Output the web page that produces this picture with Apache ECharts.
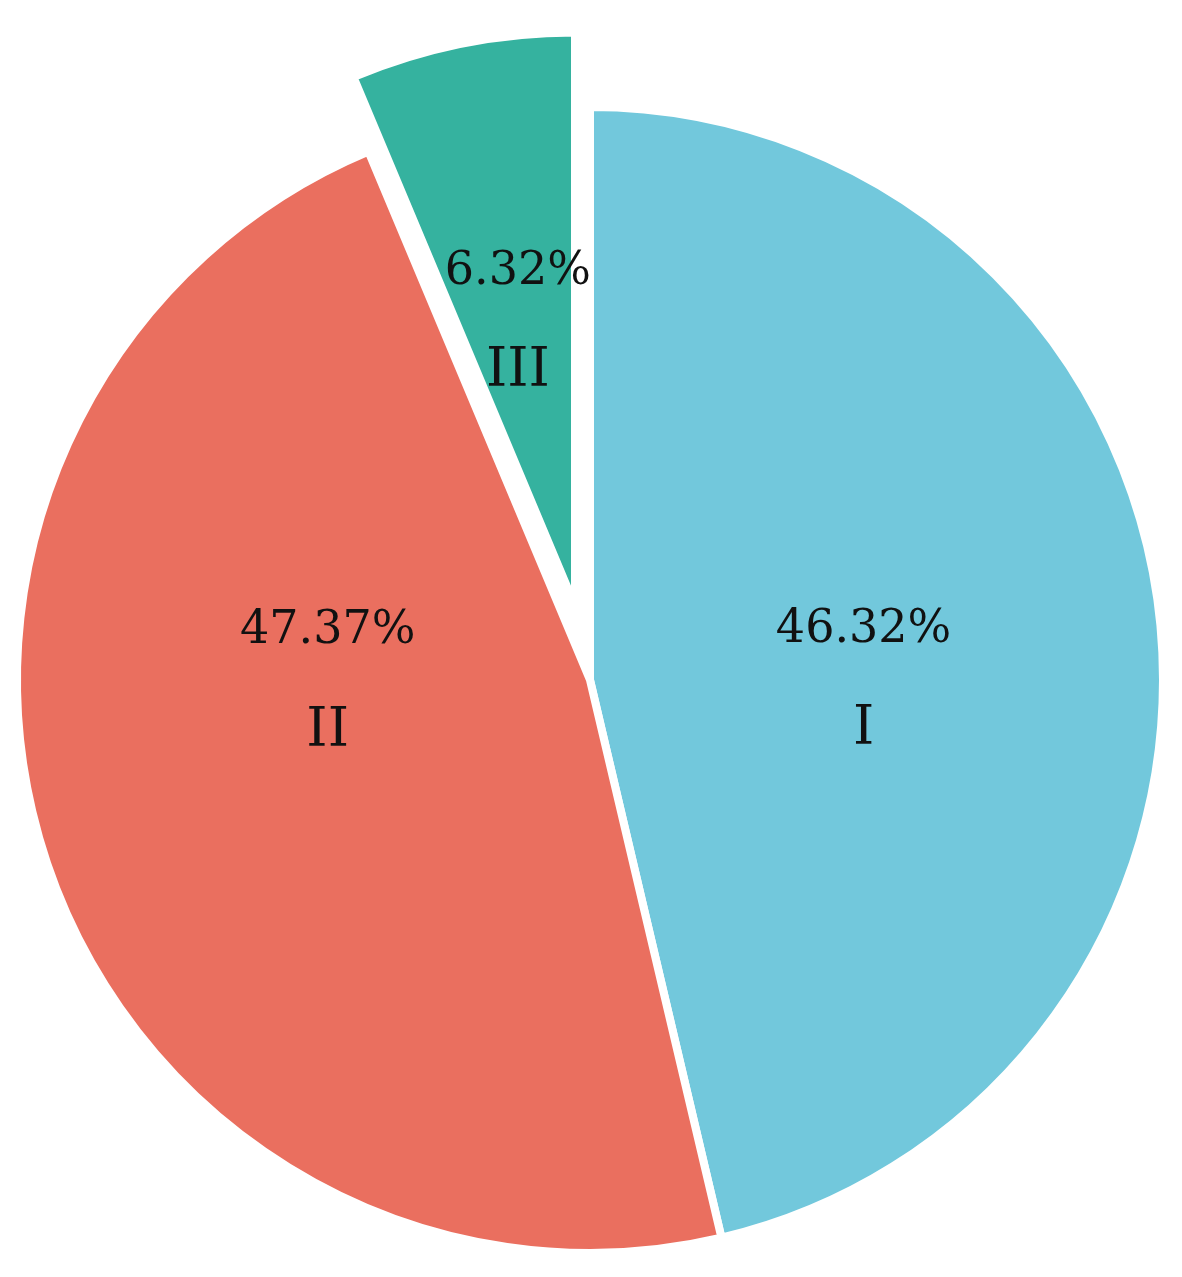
<!DOCTYPE html>
<html><head><meta charset="utf-8">
<script src="https://cdn.jsdelivr.net/npm/echarts@6/dist/echarts.min.js"></script>
<style>html,body{margin:0;background:#fff}#c{width:1182px;height:1277px}</style>
</head><body><div id="c"></div>
<script>
const categories = ['I', 'II', 'III'];
const values = [46.32, 47.37, 6.32];
const colors = ['#72C8DC', '#EA6F5F', '#35B29F'];
const offsets = [[-14, 33], [13, -88], [-31, -124]];
const chart = echarts.init(document.getElementById('c'));
chart.setOption({
  animation: false,
  series: [{
    type: 'pie',
    center: [590, 680],
    radius: [0, 573],
    startAngle: 90,
    clockwise: true,
    selectedMode: 'single',
    selectedOffset: 76,
    itemStyle: { borderColor: '#fff', borderWidth: 8 },
    label: {
      position: 'inside',
      fontFamily: 'DejaVu Serif',
      color: '#111',
      fontSize: 46,
      lineHeight: 100,
      formatter: p => p.value.toFixed(2) + '%\n{n|' + p.name + '}',
      rich: { n: { fontSize: 54, fontFamily: 'DejaVu Serif', color: '#111', lineHeight: 100 } }
    },
    labelLine: { show: false },
    data: categories.map((c, i) => ({
      name: c, value: values[i], selected: i === 2,
      itemStyle: { color: colors[i] },
      label: { offset: offsets[i] }
    }))
  }]
});
</script></body></html>
